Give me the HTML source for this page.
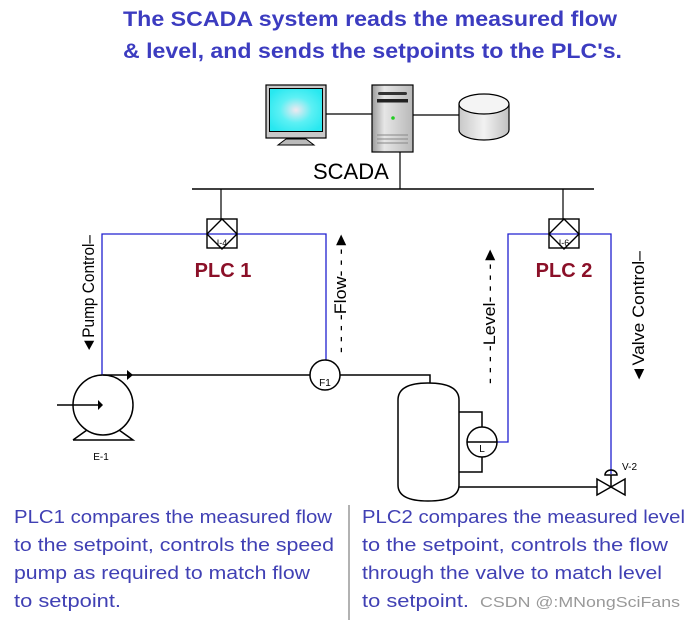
<!DOCTYPE html>
<html><head><meta charset="utf-8"><style>
html,body{margin:0;padding:0;background:#fff;}
svg{display:block;}
</style></head><body>
<svg width="694" height="623" viewBox="0 0 694 623" xmlns="http://www.w3.org/2000/svg">
<defs>
<radialGradient id="scr" cx="0.5" cy="0.5" r="0.6"><stop offset="0" stop-color="#f0e8f0"/><stop offset="0.5" stop-color="#5cf0f4"/><stop offset="1" stop-color="#28e8f0"/></radialGradient>
<linearGradient id="srv" x1="0" x2="1"><stop offset="0" stop-color="#9a9a9a"/><stop offset="0.3" stop-color="#e6e6e6"/><stop offset="1" stop-color="#b8b8b8"/></linearGradient>
<linearGradient id="cyl" x1="0" x2="1"><stop offset="0" stop-color="#c8c8c8"/><stop offset="0.5" stop-color="#f2f2f2"/><stop offset="1" stop-color="#c0c0c0"/></linearGradient>
</defs>
<g font-family="Liberation Sans, sans-serif" font-weight="bold" font-size="21" fill="#3c3cc0">
<text x="123" y="26" textLength="494" lengthAdjust="spacingAndGlyphs">The SCADA system reads the measured flow</text>
<text x="123" y="58" textLength="499" lengthAdjust="spacingAndGlyphs">&amp; level, and sends the setpoints to the PLC's.</text>
</g>
<rect x="266" y="85" width="60" height="53" fill="#c8c8c8" stroke="#000" stroke-width="1.2"/>
<rect x="269.5" y="88.5" width="53" height="43" fill="url(#scr)" stroke="#000" stroke-width="1"/>
<path d="M278 145 L286 139 L306 139 L314 145 Z" fill="#bbb" stroke="#000" stroke-width="1"/>
<line x1="326" y1="114" x2="372" y2="114" stroke="#000" stroke-width="1.2"/>
<rect x="372" y="85" width="41" height="67" fill="url(#srv)" stroke="#000" stroke-width="1.2"/>
<rect x="378" y="92" width="29" height="3" rx="1.5" fill="#333"/>
<rect x="377" y="99" width="31" height="3.5" fill="#222"/>
<circle cx="393" cy="118" r="1.8" fill="#2c2"/>
<line x1="377" y1="135" x2="408" y2="135" stroke="#888"/>
<line x1="377" y1="139" x2="408" y2="139" stroke="#888"/>
<line x1="377" y1="143" x2="408" y2="143" stroke="#888"/>
<line x1="413" y1="115" x2="459" y2="115" stroke="#000" stroke-width="1.2"/>
<path d="M459 104 L459 130 A25 10 0 0 0 509 130 L509 104" fill="url(#cyl)" stroke="#000" stroke-width="1.2"/>
<ellipse cx="484" cy="104" rx="25" ry="10" fill="#f4f4f4" stroke="#000" stroke-width="1.2"/>
<text x="313" y="179" font-family="Liberation Sans, sans-serif" font-size="22" fill="#000">SCADA</text>
<line x1="400" y1="152" x2="400" y2="189" stroke="#000" stroke-width="1.2"/>
<line x1="192" y1="189" x2="594" y2="189" stroke="#000" stroke-width="1.5"/>
<line x1="221" y1="189" x2="221" y2="219" stroke="#000" stroke-width="1.2"/>
<line x1="563" y1="189" x2="563" y2="219" stroke="#000" stroke-width="1.2"/>
<g stroke="#2020d0" stroke-width="1.3" fill="none">
<polyline points="102,375 102,234 326,234 326,360"/>
<polyline points="497,442 508,442 508,234 611,234 611,474"/>
</g>
<g stroke="#000" stroke-width="1.4" fill="none">
<rect x="207" y="219" width="30" height="29"/>
<path d="M222 219 L237 234 L222 249 L207 234 Z"/>
<rect x="549" y="219" width="30" height="29"/>
<path d="M564 219 L579 234 L564 249 L549 234 Z"/>
</g>
<text x="222" y="246" font-family="Liberation Sans, sans-serif" font-size="9" text-anchor="middle">I-4</text>
<text x="564" y="246" font-family="Liberation Sans, sans-serif" font-size="9" text-anchor="middle">I-6</text>
<g font-family="Liberation Sans, sans-serif" font-weight="bold" font-size="20" fill="#8b1028" text-anchor="middle">
<text x="223" y="277">PLC 1</text>
<text x="564" y="277">PLC 2</text>
</g>
<g font-family="Liberation Sans, sans-serif" font-size="17" fill="#000">
<text transform="translate(94,353) rotate(-90)" textLength="118" lengthAdjust="spacingAndGlyphs">◄Pump Control–</text>
<text transform="translate(346,353) rotate(-90)" textLength="122" lengthAdjust="spacingAndGlyphs">- - - -Flow- - -►</text>
<text transform="translate(495,384) rotate(-90)" textLength="138" lengthAdjust="spacingAndGlyphs">- - - -Level- - - -►</text>
<text transform="translate(644,383) rotate(-90)" textLength="132" lengthAdjust="spacingAndGlyphs">◄Valve Control–</text>
</g>
<g stroke="#000" stroke-width="1.5" fill="none">
<circle cx="103" cy="405" r="30"/>
<path d="M73 440 L87 430 M119 430 L133 440 L73 440"/>
<line x1="57" y1="405" x2="98" y2="405"/>
<polyline points="103,375 430,375 430,383"/>
<circle cx="325" cy="375" r="15" fill="#fff"/>
</g>
<path d="M98 400 L103 405 L98 410 Z" fill="#000"/>
<path d="M127 370 L133 375 L127 380 Z" fill="#000"/>
<text x="325" y="386" font-family="Liberation Sans, sans-serif" font-size="10" text-anchor="middle">F1</text>
<text x="101" y="460" font-family="Liberation Sans, sans-serif" font-size="10" text-anchor="middle">E-1</text>
<g stroke="#000" stroke-width="1.5" fill="none">
<path d="M398 485 L398 400 Q398 383 428 383 Q459 383 459 400 L459 485 Q459 501 428 501 Q398 501 398 485 Z"/>
<polyline points="459,412 482,412 482,427"/>
<polyline points="459,472 482,472 482,457"/>
<circle cx="482" cy="442" r="15" fill="#fff"/>
<line x1="467" y1="442" x2="497" y2="442"/>
<line x1="459" y1="487" x2="597" y2="487"/>
<path d="M597 479 L597 495 L625 479 L625 495 Z"/>
<line x1="611" y1="487" x2="611" y2="475"/>
<path d="M605 475 A6 5 0 0 1 617 475 Z"/>
</g>
<text x="482" y="452" font-family="Liberation Sans, sans-serif" font-size="10" text-anchor="middle">L</text>
<text x="622" y="470" font-family="Liberation Sans, sans-serif" font-size="10">V-2</text>
<line x1="349" y1="505" x2="349" y2="620" stroke="#666" stroke-width="1"/>
<g font-family="Liberation Sans, sans-serif" font-size="18" fill="#4040b4">
<text x="14" y="523" textLength="318" lengthAdjust="spacingAndGlyphs">PLC1 compares the measured flow</text>
<text x="14" y="551" textLength="320" lengthAdjust="spacingAndGlyphs">to the setpoint, controls the speed</text>
<text x="14" y="579" textLength="296" lengthAdjust="spacingAndGlyphs">pump as required to match flow</text>
<text x="14" y="607" textLength="107" lengthAdjust="spacingAndGlyphs">to setpoint.</text>
<text x="362" y="523" textLength="323" lengthAdjust="spacingAndGlyphs">PLC2 compares the measured level</text>
<text x="362" y="551" textLength="306" lengthAdjust="spacingAndGlyphs">to the setpoint, controls the flow</text>
<text x="362" y="579" textLength="300" lengthAdjust="spacingAndGlyphs">through the valve to match level</text>
<text x="362" y="607" textLength="107" lengthAdjust="spacingAndGlyphs">to setpoint.</text>
</g>
<text x="480" y="607" font-family="Liberation Sans, sans-serif" font-size="15" fill="#999" textLength="200" lengthAdjust="spacingAndGlyphs">CSDN @:MNongSciFans</text>
</svg>
</body></html>
